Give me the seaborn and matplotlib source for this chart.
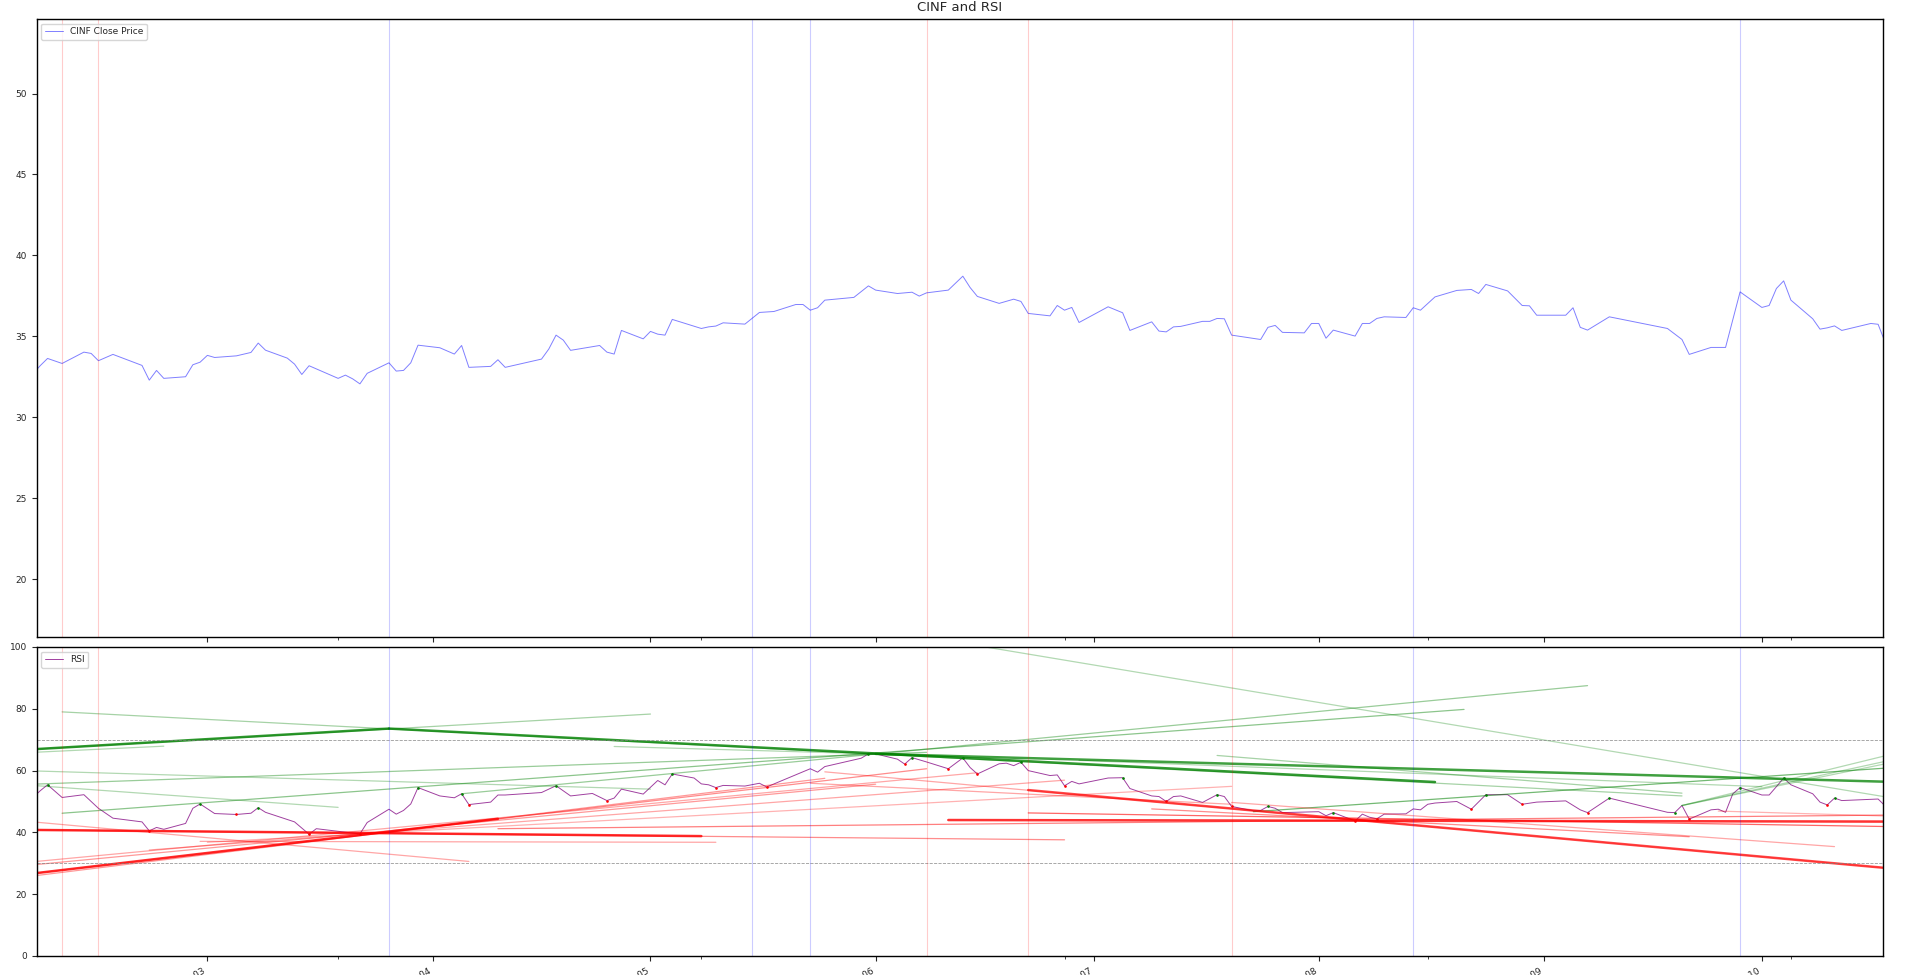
import matplotlib
matplotlib.use("Agg")
import matplotlib.pyplot as plt
import matplotlib.dates as mdates
import matplotlib.ticker as mticker
import pandas as pd
import seaborn as sns

# CINF daily close
price_dates = [
    "2001-02-05", "2001-02-06", "2001-02-07", "2001-02-09", "2001-02-12", "2001-02-13",
    "2001-02-14", "2001-02-16", "2001-02-20", "2001-02-21", "2001-02-22", "2001-02-23",
    "2001-02-26", "2001-02-27", "2001-02-28", "2001-03-01", "2001-03-02", "2001-03-05",
    "2001-03-07", "2001-03-08", "2001-03-09", "2001-03-12", "2001-03-13", "2001-03-14",
    "2001-03-15", "2001-03-19", "2001-03-20", "2001-03-21", "2001-03-22", "2001-03-23",
    "2001-03-26", "2001-03-27", "2001-03-28", "2001-03-29", "2001-03-30", "2001-04-02",
    "2001-04-04", "2001-04-05", "2001-04-06", "2001-04-09", "2001-04-10", "2001-04-11",
    "2001-04-16", "2001-04-17", "2001-04-18", "2001-04-19", "2001-04-20", "2001-04-24",
    "2001-04-25", "2001-04-26", "2001-04-27", "2001-04-30", "2001-05-01", "2001-05-02",
    "2001-05-03", "2001-05-04", "2001-05-08", "2001-05-09", "2001-05-10", "2001-05-11",
    "2001-05-14", "2001-05-16", "2001-05-18", "2001-05-21", "2001-05-22", "2001-05-23",
    "2001-05-24", "2001-05-25", "2001-05-29", "2001-05-31", "2001-06-01", "2001-06-04",
    "2001-06-06", "2001-06-07", "2001-06-08", "2001-06-11", "2001-06-13", "2001-06-14",
    "2001-06-15", "2001-06-18", "2001-06-20", "2001-06-21", "2001-06-22", "2001-06-25",
    "2001-06-26", "2001-06-27", "2001-06-28", "2001-06-29", "2001-07-03", "2001-07-05",
    "2001-07-06", "2001-07-09", "2001-07-10", "2001-07-11", "2001-07-12", "2001-07-13",
    "2001-07-16", "2001-07-17", "2001-07-18", "2001-07-19", "2001-07-20", "2001-07-24",
    "2001-07-25", "2001-07-26", "2001-07-27", "2001-07-30", "2001-07-31", "2001-08-01",
    "2001-08-02", "2001-08-03", "2001-08-06", "2001-08-07", "2001-08-08", "2001-08-09",
    "2001-08-10", "2001-08-13", "2001-08-14", "2001-08-15", "2001-08-17", "2001-08-20",
    "2001-08-22", "2001-08-23", "2001-08-24", "2001-08-27", "2001-08-29", "2001-08-30",
    "2001-08-31", "2001-09-04", "2001-09-05", "2001-09-06", "2001-09-07", "2001-09-10",
    "2001-09-18", "2001-09-20", "2001-09-21", "2001-09-24", "2001-09-26", "2001-09-28",
    "2001-10-01", "2001-10-02", "2001-10-03", "2001-10-04", "2001-10-05", "2001-10-08",
    "2001-10-09", "2001-10-10", "2001-10-11", "2001-10-12", "2001-10-16", "2001-10-17",
    "2001-10-18",
]
price_close = [
    32.70, 33.20, 33.64, 33.33, 34.03, 33.95,
    33.50, 33.89, 33.21, 32.30, 32.90, 32.41,
    32.51, 33.25, 33.41, 33.83, 33.70, 33.80,
    34.01, 34.59, 34.15, 33.66, 33.29, 32.65,
    33.19, 32.41, 32.61, 32.38, 32.07, 32.72,
    33.37, 32.86, 32.90, 33.37, 34.46, 34.30,
    33.91, 34.44, 33.09, 33.15, 33.56, 33.09,
    33.60, 34.22, 35.08, 34.77, 34.14, 34.44,
    34.03, 33.91, 35.37, 34.85, 35.31, 35.14,
    35.08, 36.05, 35.49, 35.59, 35.64, 35.84,
    35.76, 36.48, 36.54, 36.97, 36.97, 36.62,
    36.77, 37.24, 37.41, 38.12, 37.86, 37.65,
    37.73, 37.49, 37.69, 37.86, 38.72, 38.02,
    37.47, 37.04, 37.30, 37.16, 36.42, 36.27,
    36.91, 36.62, 36.79, 35.86, 36.83, 36.46,
    35.37, 35.90, 35.33, 35.28, 35.59, 35.62,
    35.93, 35.93, 36.11, 36.09, 35.08, 34.81,
    35.56, 35.68, 35.25, 35.22, 35.80, 35.80,
    34.89, 35.39, 35.02, 35.80, 35.80, 36.11,
    36.21, 36.17, 36.77, 36.62, 37.44, 37.84,
    37.90, 37.65, 38.21, 37.81, 36.91, 36.89,
    36.31, 36.31, 36.77, 35.56, 35.39, 36.21,
    35.49, 34.81, 33.89, 34.32, 34.32, 37.75,
    36.79, 36.91, 37.96, 38.43, 37.24, 36.09,
    35.45, 35.53, 35.65, 35.37, 35.80, 35.75,
    34.60,
]

# RSI
rsi_dates = [
    "2001-02-05", "2001-02-06", "2001-02-07", "2001-02-09", "2001-02-12", "2001-02-14",
    "2001-02-16", "2001-02-20", "2001-02-21", "2001-02-22", "2001-02-23", "2001-02-26",
    "2001-02-27", "2001-02-28", "2001-03-02", "2001-03-05", "2001-03-07", "2001-03-08",
    "2001-03-09", "2001-03-13", "2001-03-15", "2001-03-16", "2001-03-22", "2001-03-23",
    "2001-03-26", "2001-03-27", "2001-03-28", "2001-03-29", "2001-03-30", "2001-04-02",
    "2001-04-04", "2001-04-05", "2001-04-06", "2001-04-09", "2001-04-10", "2001-04-11",
    "2001-04-16", "2001-04-18", "2001-04-20", "2001-04-23", "2001-04-25", "2001-04-26",
    "2001-04-27", "2001-04-30", "2001-05-02", "2001-05-03", "2001-05-04", "2001-05-07",
    "2001-05-08", "2001-05-09", "2001-05-10", "2001-05-11", "2001-05-14", "2001-05-16",
    "2001-05-17", "2001-05-23", "2001-05-24", "2001-05-25", "2001-05-30", "2001-05-31",
    "2001-06-01", "2001-06-04", "2001-06-05", "2001-06-06", "2001-06-08", "2001-06-11",
    "2001-06-13", "2001-06-14", "2001-06-15", "2001-06-18", "2001-06-19", "2001-06-20",
    "2001-06-21", "2001-06-22", "2001-06-25", "2001-06-26", "2001-06-27", "2001-06-28",
    "2001-06-29", "2001-07-03", "2001-07-05", "2001-07-06", "2001-07-09", "2001-07-10",
    "2001-07-11", "2001-07-12", "2001-07-13", "2001-07-16", "2001-07-18", "2001-07-19",
    "2001-07-20", "2001-07-23", "2001-07-24", "2001-07-25", "2001-07-26", "2001-07-27",
    "2001-08-01", "2001-08-02", "2001-08-03", "2001-08-06", "2001-08-07", "2001-08-08",
    "2001-08-09", "2001-08-10", "2001-08-13", "2001-08-14", "2001-08-15", "2001-08-16",
    "2001-08-17", "2001-08-20", "2001-08-22", "2001-08-24", "2001-08-27", "2001-08-29",
    "2001-08-31", "2001-09-04", "2001-09-06", "2001-09-07", "2001-09-10", "2001-09-18",
    "2001-09-19", "2001-09-20", "2001-09-21", "2001-09-24", "2001-09-25", "2001-09-26",
    "2001-09-27", "2001-09-28", "2001-10-01", "2001-10-02", "2001-10-03", "2001-10-04",
    "2001-10-05", "2001-10-08", "2001-10-09", "2001-10-10", "2001-10-11", "2001-10-12",
    "2001-10-17", "2001-10-18",
]
rsi_values = [
    51.3, 53.5, 55.4, 51.3, 52.2, 47.8,
    44.6, 43.4, 40.5, 41.6, 41.0, 42.9,
    47.8, 49.2, 46.1, 45.8, 46.2, 48.0,
    46.5, 43.4, 39.4, 41.2, 39.5, 43.2,
    47.5, 45.9, 47.1, 49.2, 54.5, 51.8,
    51.2, 52.5, 49.0, 49.8, 52.1, 52.1,
    52.9, 55.1, 51.8, 52.6, 50.3, 51.1,
    54.0, 52.4, 56.8, 55.4, 58.9, 57.6,
    55.7, 55.4, 54.5, 55.2, 55.0, 55.9,
    54.7, 60.6, 59.5, 61.3, 64.0, 65.4,
    65.4, 63.7, 62.1, 64.2, 62.8, 60.6,
    64.1, 61.0, 58.9, 62.2, 62.4, 61.6,
    62.7, 60.0, 58.4, 58.6, 55.1, 56.5,
    55.7, 57.6, 57.7, 54.2, 51.8, 51.6,
    50.0, 51.6, 51.8, 49.7, 52.2, 51.6,
    48.4, 47.0, 47.1, 48.4, 47.8, 46.4,
    46.7, 45.4, 46.4, 43.7, 45.9, 44.9,
    44.4, 45.9, 46.0, 47.6, 47.3, 49.1,
    49.5, 50.0, 47.5, 52.2, 52.2, 49.1,
    49.8, 50.2, 47.3, 46.4, 51.1, 46.5,
    46.4, 48.7, 44.3, 47.3, 47.5, 46.5,
    52.5, 54.5, 52.1, 52.1, 54.8, 57.6,
    55.4, 52.5, 49.8, 48.9, 51.1, 50.3,
    50.8, 48.5,
]

# pivot markers on the RSI line
peak_dates = [
    "2001-02-07", "2001-02-28", "2001-03-08", "2001-03-30", "2001-04-05", "2001-04-18",
    "2001-05-04", "2001-05-31", "2001-06-06", "2001-06-13", "2001-06-21", "2001-07-05",
    "2001-07-18", "2001-07-25", "2001-08-03", "2001-08-24", "2001-09-10", "2001-09-19",
    "2001-09-28", "2001-10-04", "2001-10-11",
]
trough_dates = [
    "2001-02-21", "2001-03-05", "2001-03-15", "2001-03-22", "2001-04-06", "2001-04-25",
    "2001-05-10", "2001-05-17", "2001-06-05", "2001-06-11", "2001-06-15", "2001-06-27",
    "2001-07-11", "2001-07-20", "2001-08-06", "2001-08-09", "2001-08-22", "2001-08-29",
    "2001-09-07", "2001-09-21", "2001-10-10",
]

# vertical signal lines
red_signal_dates = ["2001-02-09", "2001-02-14", "2001-06-08", "2001-06-22", "2001-07-20"]
blue_signal_dates = ["2001-03-26", "2001-05-15", "2001-05-23", "2001-08-14", "2001-09-28"]

# RSI resistance lines (green): start date/value, end date/value
green_start = [
    "2001-02-05", "2001-02-05", "2001-02-09", "2001-03-26", "2001-06-09", "2001-04-05",
    "2001-02-09", "2001-04-26", "2001-06-01", "2001-02-05", "2001-02-05", "2001-02-05",
    "2001-02-05", "2001-07-23", "2001-09-20", "2001-09-20", "2001-09-20", "2001-07-18",
    "2001-06-29",
]
green_start_val = [
    66.9, 66.9, 79.0, 73.6, 102.8, 52.5,
    46.2, 67.8, 65.4, 55.6, 59.9, 55.2,
    65.9, 46.7, 48.7, 48.7, 48.7, 64.9,
    63.3,
]
green_end = [
    "2001-05-01", "2001-03-26", "2001-09-20", "2001-08-17", "2001-10-18", "2001-09-07",
    "2001-08-21", "2001-06-01", "2001-10-18", "2001-06-08", "2001-05-01", "2001-03-19",
    "2001-02-23", "2001-10-18", "2001-10-18", "2001-10-18", "2001-10-18", "2001-09-20",
    "2001-10-01",
]
green_end_val = [
    78.3, 73.6, 51.8, 56.3, 51.5, 87.5,
    79.8, 65.4, 56.4, 65.9, 54.0, 48.1,
    67.9, 60.8, 64.8, 63.0, 62.2, 52.7,
    54.8,
]
green_alpha = [0.35, 0.8, 0.35, 0.8, 0.3, 0.4,
               0.45, 0.3, 0.75, 0.4, 0.3, 0.3,
               0.3, 0.55, 0.3, 0.3, 0.3, 0.35,
               0.3]

# RSI support lines (red)
red_start = [
    "2001-02-05", "2001-02-05", "2001-02-05", "2001-02-05", "2001-02-21", "2001-02-05",
    "2001-03-01", "2001-02-05", "2001-02-05", "2001-02-05", "2001-02-28", "2001-05-25",
    "2001-06-22", "2001-06-11", "2001-04-10", "2001-06-22", "2001-07-20", "2001-07-09",
    "2001-09-25", "2001-05-23",
]
red_start_val = [
    26.7, 26.7, 29.5, 25.9, 34.3, 30.5,
    36.8, 40.8, 40.8, 43.4, 37.1, 59.6,
    53.7, 44.0, 41.2, 46.3, 49.7, 47.6,
    46.9, 55.9,
]
red_end = [
    "2001-06-08", "2001-04-10", "2001-06-01", "2001-05-25", "2001-06-27", "2001-06-15",
    "2001-07-20", "2001-06-27", "2001-05-08", "2001-04-06", "2001-05-10", "2001-10-18",
    "2001-10-18", "2001-10-18", "2001-10-18", "2001-10-18", "2001-10-11", "2001-09-21",
    "2001-10-18", "2001-07-20",
]
red_end_val = [
    60.6, 44.4, 55.6, 57.5, 56.9, 59.3,
    54.9, 37.6, 38.8, 30.6, 36.8, 28.5,
    28.5, 43.5, 45.6, 41.9, 35.4, 38.6,
    45.3, 49.1,
]
red_alpha = [0.45, 0.8, 0.4, 0.4, 0.35, 0.35,
             0.3, 0.45, 0.8, 0.35, 0.35, 0.35,
             0.7, 0.8, 0.5, 0.6, 0.35, 0.45,
             0.3, 0.35]

price = pd.DataFrame({"Date": pd.to_datetime(price_dates), "Close": price_close})
rsi = pd.DataFrame({"Date": pd.to_datetime(rsi_dates), "RSI": rsi_values}).set_index("Date")

sns.set_style("ticks")
plt.rcParams.update({
    "font.family": ["DejaVu Sans"],
    "font.size": 6.5,
    "xtick.labelsize": 6.5,
    "ytick.labelsize": 6.5,
    "xtick.major.size": 3.5,
    "ytick.major.size": 3.5,
    "xtick.minor.size": 2,
    "axes.linewidth": 1.0,
    "axes.edgecolor": "black",
})

fig, (ax1, ax2) = plt.subplots(
    2, 1, figsize=(19.2, 9.75), dpi=100, sharex=True,
    gridspec_kw={"height_ratios": [2, 1], "hspace": 0.0216},
)
fig.subplots_adjust(left=0.0191, right=0.9807, top=0.9805, bottom=0.0195)

# price panel
sns.lineplot(data=price, x="Date", y="Close", ax=ax1, color="blue", alpha=0.5,
             linewidth=0.7, label="CINF Close Price")
ax1.set_ylim(16.44, 54.6)
ax1.set_title("CINF and RSI", fontsize=9.5)

# RSI panel
sns.lineplot(x=rsi.index, y=rsi["RSI"], ax=ax2, color="purple", alpha=0.75,
             linewidth=0.7, label="RSI")
pk = pd.to_datetime(peak_dates)
tr = pd.to_datetime(trough_dates)
ax2.scatter(pk, rsi.loc[pk, "RSI"], s=0.8, color="green", zorder=3)
ax2.scatter(tr, rsi.loc[tr, "RSI"], s=0.8, color="red", zorder=3)

for s, v0, e, v1, a in zip(green_start, green_start_val, green_end, green_end_val, green_alpha):
    ax2.plot(pd.to_datetime([s, e]), [v0, v1], color="green", alpha=a,
             linewidth=0.9 + 0.9 * (a > 0.6))
for s, v0, e, v1, a in zip(red_start, red_start_val, red_end, red_end_val, red_alpha):
    ax2.plot(pd.to_datetime([s, e]), [v0, v1], color="red", alpha=a,
             linewidth=0.9 + 0.9 * (a > 0.6))

ax2.axhline(70, color="gray", linestyle="--", linewidth=0.6, alpha=0.8)
ax2.axhline(30, color="gray", linestyle="--", linewidth=0.6, alpha=0.8)
ax2.set_ylim(0, 100)

for ax in (ax1, ax2):
    for d in red_signal_dates:
        ax.axvline(pd.Timestamp(d), color="red", alpha=0.2, linewidth=0.8)
    for d in blue_signal_dates:
        ax.axvline(pd.Timestamp(d), color="blue", alpha=0.2, linewidth=0.8)
    ax.set_xlabel("")
    ax.set_ylabel("")
    ax.legend(loc="upper left", fontsize=6.5)

ax2.set_xlim(pd.Timestamp("2001-02-05 12:00"), pd.Timestamp("2001-10-17 16:00"))
ax2.xaxis.set_major_locator(mdates.MonthLocator())
ax2.xaxis.set_major_formatter(mdates.DateFormatter("%Y-%m"))
ax2.xaxis.set_minor_locator(mticker.FixedLocator(
    mdates.date2num(pd.date_range("2001-03-19", periods=5, freq="50D"))))
ax2.yaxis.set_major_locator(mticker.MultipleLocator(20))
plt.setp(ax2.get_xticklabels(), rotation=30, ha="right")

fig.savefig("out.png", dpi=100)
